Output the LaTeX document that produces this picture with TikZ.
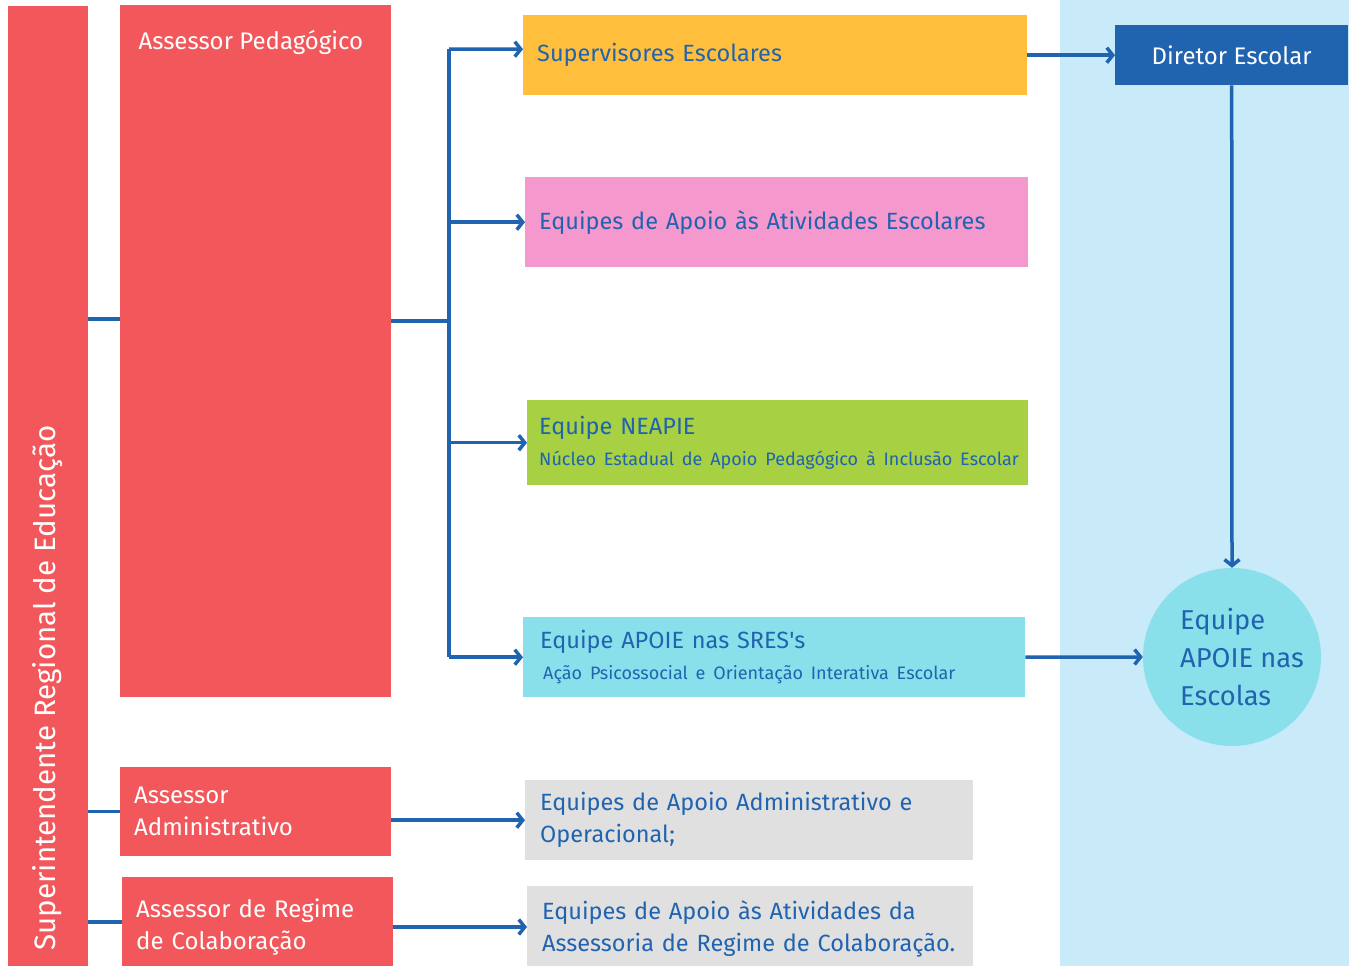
\documentclass[tikz,border=0pt]{standalone}
\usepackage{fontspec}
\setmainfont{Fira Sans}
\usetikzlibrary{arrows.meta}

\definecolor{redbox}{HTML}{F2585B}
\definecolor{supbox}{HTML}{FFBF3C}
\definecolor{pinkbox}{HTML}{F598CE}
\definecolor{greenbox}{HTML}{A8D043}
\definecolor{cyanbox}{HTML}{8AE0EA}
\definecolor{greybox}{HTML}{E0E0E0}
\definecolor{schoolbg}{HTML}{C8EAF9}
\definecolor{lineblue}{HTML}{2063AF}

\newcommand{\subtxt}[1]{\mbox{\fontsize{18}{24}\selectfont #1}}

\tikzset{
  box/.style={rectangle, anchor=north west, inner xsep=14pt, inner ysep=0pt,
    align=left, text=lineblue, font=\fontsize{23.5}{32}\selectfont},
  red box/.style={box, fill=redbox, text=white, font=\fontsize{24}{32}\selectfont},
  link/.style={draw=lineblue, line width=3.5pt},
  arr/.style={link, -{Straight Barb[length=6pt,width=15pt]}}
}

\begin{document}
\begin{tikzpicture}[x=1pt,y=-1pt]
\useasboundingbox (0,0) rectangle (1349,966);
\fill[schoolbg] (1060,0) rectangle (1349,966);

% left column
\node[red box, minimum width=80pt, minimum height=960pt] (super) at (8,6) {};
\node[rotate=90, anchor=west, text=white, font=\fontsize{29.5}{32}\selectfont]
  (supertxt) at (48,954) {Superintendente Regional de Educação};
\node[red box, minimum width=271pt, minimum height=692pt] (pedag) at (120,5) {};
\node[anchor=west, text=white, font=\fontsize{24}{32}\selectfont]
  (pedagtxt) at (135,42) {Assessor Pedagógico};
\node[red box, text width=243pt, minimum height=89pt] (admin) at (120,767)
  {Assessor\\Administrativo};
\node[red box, text width=243pt, minimum height=100pt] (regime) at (122,877)
  {Assessor de Regime\\de Colaboração};

% teams
\node[box, fill=supbox, text width=476pt, minimum height=80pt] (superv) at (523,15)
  {Supervisores Escolares};
\node[box, fill=pinkbox, text width=475pt, minimum height=90pt] (ativ) at (525,177)
  {Equipes de Apoio às Atividades Escolares};
\node[box, fill=greenbox, inner xsep=12pt, text width=477pt, minimum height=85pt] (neapie) at (527,400)
  {Equipe NEAPIE\\[-1pt]\subtxt{Núcleo Estadual de Apoio Pedagógico à Inclusão Escolar}};
\node[box, fill=cyanbox, inner xsep=17pt, text width=468pt, minimum height=80pt] (sres) at (523,617)
  {Equipe APOIE nas SRES\textquotesingle s\\[-1pt]\subtxt{\hspace{3pt}Ação Psicossocial e Orientação Interativa Escolar}};
\node[box, fill=greybox, inner xsep=15pt, text width=418pt, minimum height=80pt] (eqadm) at (525,780)
  {Equipes de Apoio Administrativo e\\Operacional;};
\node[box, fill=greybox, inner xsep=15pt, text width=416pt, minimum height=86pt] (eqreg) at (527,886)
  {Equipes de Apoio às Atividades da\\Assessoria de Regime de Colaboração.};

% school side
\node[box, fill=lineblue, text=white, align=center, font=\fontsize{24}{32}\selectfont,
  minimum width=233pt, minimum height=60pt] (diretor) at (1115,25) {Diretor Escolar};
\node[circle, fill=cyanbox, minimum size=178pt] (escolas) at (1232,657) {};
\node[align=left, text=lineblue, font=\fontsize{27.3}{38}\selectfont]
  (escolastxt) at ([xshift=10pt]escolas.center) {Equipe\\APOIE nas\\Escolas};

% connectors
\draw[link] (super.east |- 0,319) -- (pedag.west |- 0,319);
\draw[link] (super.east |- admin.west) -- (admin.west);
\draw[link] (super.east |- 0,922) -- (regime.west |- 0,922);
\coordinate (trunk) at (449,321);
\draw[link] (pedag.east |- trunk) -- (trunk);
\draw[link] (trunk |- 0,49) -- (trunk |- sres.west);
\draw[arr] (trunk |- 0,49) -- ([yshift=6pt]superv.west);
\draw[arr] (trunk |- ativ.west) -- (ativ.west);
\draw[arr] (trunk |- neapie.west) -- (neapie.west);
\draw[arr] (trunk |- sres.west) -- (sres.west);
\draw[arr] (admin.east |- eqadm.west) -- (eqadm.west);
\draw[arr] (regime.east |- 0,927) -- (eqreg.west |- 0,927);
\draw[arr] (superv.east |- diretor.west) -- (diretor.west);
\draw[arr] (diretor.south) -- (escolas.north);
\draw[arr] (sres.east) -- (escolas.west);
\end{tikzpicture}
\end{document}
